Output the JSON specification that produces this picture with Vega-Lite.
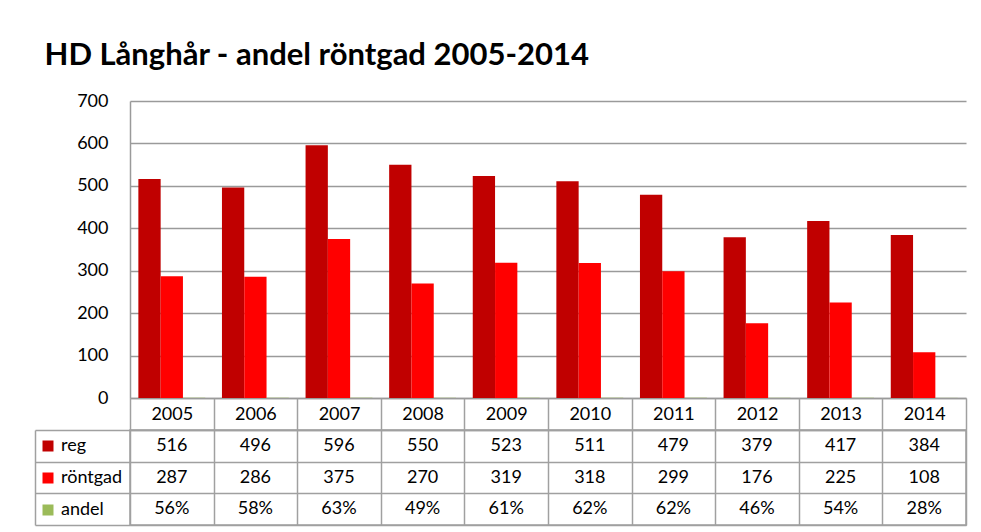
{
  "$schema": "https://vega.github.io/schema/vega-lite/v6.json",
  "background": "white",
  "autosize": {"type": "pad"},
  "padding": {"left": 33, "top": 40, "right": 14, "bottom": 6},
  "title": {
    "text": "HD Långhår - andel röntgad 2005-2014",
    "anchor": "start",
    "font": "Lato",
    "fontSize": 31,
    "fontWeight": "bold",
    "color": "#000000",
    "dx": 11,
    "offset": 20
  },
  "datasets": {
    "hd": [
      {"year": "2005", "series": "reg", "value": 516},
      {"year": "2005", "series": "röntgad", "value": 287},
      {"year": "2005", "series": "andel", "value": 0.56},
      {"year": "2006", "series": "reg", "value": 496},
      {"year": "2006", "series": "röntgad", "value": 286},
      {"year": "2006", "series": "andel", "value": 0.58},
      {"year": "2007", "series": "reg", "value": 596},
      {"year": "2007", "series": "röntgad", "value": 375},
      {"year": "2007", "series": "andel", "value": 0.63},
      {"year": "2008", "series": "reg", "value": 550},
      {"year": "2008", "series": "röntgad", "value": 270},
      {"year": "2008", "series": "andel", "value": 0.49},
      {"year": "2009", "series": "reg", "value": 523},
      {"year": "2009", "series": "röntgad", "value": 319},
      {"year": "2009", "series": "andel", "value": 0.61},
      {"year": "2010", "series": "reg", "value": 511},
      {"year": "2010", "series": "röntgad", "value": 318},
      {"year": "2010", "series": "andel", "value": 0.62},
      {"year": "2011", "series": "reg", "value": 479},
      {"year": "2011", "series": "röntgad", "value": 299},
      {"year": "2011", "series": "andel", "value": 0.62},
      {"year": "2012", "series": "reg", "value": 379},
      {"year": "2012", "series": "röntgad", "value": 176},
      {"year": "2012", "series": "andel", "value": 0.46},
      {"year": "2013", "series": "reg", "value": 417},
      {"year": "2013", "series": "röntgad", "value": 225},
      {"year": "2013", "series": "andel", "value": 0.54},
      {"year": "2014", "series": "reg", "value": 384},
      {"year": "2014", "series": "röntgad", "value": 108},
      {"year": "2014", "series": "andel", "value": 0.28}
    ]
  },
  "bounds": "flush",
  "spacing": 32,
  "vconcat": [
    {
      "width": 836,
      "height": 297,
      "data": {"name": "hd"},
      "view": {"stroke": null},
      "mark": {"type": "bar"},
      "encoding": {
        "x": {
          "field": "year",
          "type": "nominal",
          "scale": {"paddingInner": 0.2, "paddingOuter": 0.1},
          "axis": {"title": null, "labels": false, "ticks": false, "domain": true, "domainColor": "#9a9a9a", "domainWidth": 1.5}
        },
        "xOffset": {
          "field": "series",
          "type": "nominal",
          "scale": {"domain": ["reg", "röntgad", "andel"], "paddingInner": 0, "paddingOuter": 0}
        },
        "y": {
          "field": "value",
          "type": "quantitative",
          "scale": {"domain": [0, 700], "nice": false},
          "axis": {
            "title": null,
            "values": [0, 100, 200, 300, 400, 500, 600, 700],
            "ticks": false,
            "grid": true,
            "gridColor": "#9a9a9a",
            "gridWidth": 1.5,
            "domain": true,
            "domainColor": "#9a9a9a",
            "domainWidth": 1.5,
            "labelFont": "Lato",
            "labelFontSize": 18,
            "labelColor": "#000000",
            "labelPadding": 22
          }
        },
        "color": {
          "field": "series",
          "type": "nominal",
          "scale": {"domain": ["reg", "röntgad", "andel"], "range": ["#C00000", "#FF0000", "#9BBB59"]},
          "legend": {
            "orient": "none",
            "legendX": -91,
            "legendY": 336,
            "title": null,
            "symbolType": "square",
            "symbolSize": 121,
            "symbolStrokeWidth": 0,
            "symbolOpacity": 1,
            "labelFont": "Lato",
            "labelFontSize": 18,
            "labelColor": "#000000",
            "labelOffset": 4,
            "rowPadding": 14,
            "padding": 0
          }
        }
      }
    },
    {
      "width": 836,
      "height": 95,
      "data": {"name": "hd"},
      "view": {"stroke": "#a0a0a0", "strokeWidth": 1.5},
      "transform": [
        {"calculate": "datum.series == 'andel' ? format(datum.value, '.0%') : format(datum.value, 'd')", "as": "txt"}
      ],
      "mark": {"type": "text", "font": "Lato", "fontSize": 18, "color": "#000000"},
      "encoding": {
        "x": {
          "field": "year",
          "type": "nominal",
          "scale": {"paddingInner": 0, "paddingOuter": 0},
          "axis": {
            "orient": "top",
            "title": null,
            "tickBand": "extent",
            "tickSize": 32,
            "tickColor": "#a0a0a0",
            "tickWidth": 1.5,
            "grid": true,
            "gridColor": "#a0a0a0",
            "gridWidth": 1.5,
            "domain": true,
            "domainColor": "#a0a0a0",
            "domainWidth": 1.5,
            "labelAngle": 0,
            "labelFont": "Lato",
            "labelFontSize": 18,
            "labelColor": "#000000",
            "labelBaseline": "middle",
            "labelPadding": -16
          }
        },
        "y": {
          "field": "series",
          "type": "nominal",
          "sort": ["reg", "röntgad", "andel"],
          "scale": {"paddingInner": 0, "paddingOuter": 0},
          "axis": {
            "title": null,
            "labels": false,
            "tickBand": "extent",
            "tickSize": -95,
            "offset": 95,
            "tickColor": "#a0a0a0",
            "tickWidth": 1.5,
            "grid": true,
            "gridColor": "#a0a0a0",
            "gridWidth": 1.5,
            "domain": true,
            "domainColor": "#a0a0a0",
            "domainWidth": 1.5
          }
        },
        "text": {"field": "txt"}
      }
    }
  ]
}
